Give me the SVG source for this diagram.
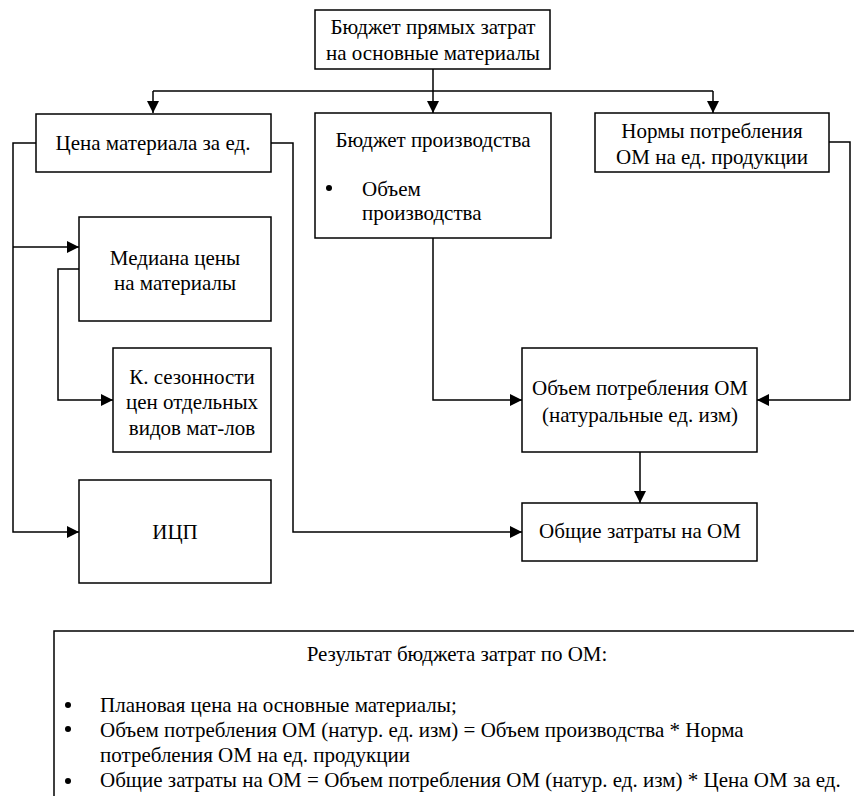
<svg xmlns="http://www.w3.org/2000/svg" width="854" height="796" viewBox="0 0 854 796">
<style>
.box{fill:#fff;stroke:#000;stroke-width:1.5}
.ln{fill:none;stroke:#000;stroke-width:1.5}
</style>
<defs>
<marker id="ah" viewBox="0 0 12 12" refX="12" refY="6" markerWidth="12" markerHeight="12" markerUnits="userSpaceOnUse" orient="auto">
<path d="M0,0 L12,6 L0,12 Z" fill="#000"/>
</marker>
</defs>
<rect width="854" height="796" fill="#fff"/>
<g id="connectors">
<path class="ln" d="M433,69 V91"/>
<path class="ln" d="M153,91 H713"/>
<path class="ln" d="M153,91 V113" marker-end="url(#ah)"/>
<path class="ln" d="M433,91 V113" marker-end="url(#ah)"/>
<path class="ln" d="M713,91 V113" marker-end="url(#ah)"/>
<path class="ln" d="M36,143 H13 V532 H79" marker-end="url(#ah)"/>
<path class="ln" d="M13,247 H79" marker-end="url(#ah)"/>
<path class="ln" d="M79,269 H58 V400 H113" marker-end="url(#ah)"/>
<path class="ln" d="M271,143 H293 V532 H522" marker-end="url(#ah)"/>
<path class="ln" d="M433,238 V400 H522" marker-end="url(#ah)"/>
<path class="ln" d="M829,142 H850 V400 H757" marker-end="url(#ah)"/>
<path class="ln" d="M640,452 V503" marker-end="url(#ah)"/>
</g>
<g font-family="Liberation Serif" font-size="21" fill="#000">
<g id="n-top" text-anchor="middle">
<rect class="box" x="315" y="10" width="235" height="59"/>
<text x="433" y="34">Бюджет прямых затрат</text>
<text x="433" y="60">на основные материалы</text>
</g>
<g id="n-price" text-anchor="middle">
<rect class="box" x="36" y="114" width="235" height="58"/>
<text x="153" y="150">Цена материала за ед.</text>
</g>
<g id="n-prod">
<rect class="box" x="315" y="113" width="236" height="125"/>
<text x="433" y="147" text-anchor="middle">Бюджет производства</text>
<circle cx="329" cy="188" r="3"/>
<text x="362" y="196">Объем</text>
<text x="362" y="220">производства</text>
</g>
<g id="n-norms" text-anchor="middle">
<rect class="box" x="595" y="113" width="234" height="59"/>
<text x="712" y="138">Нормы потребления</text>
<text x="712" y="164">ОМ на ед. продукции</text>
</g>
<g id="n-median" text-anchor="middle">
<rect class="box" x="79" y="217" width="192" height="104"/>
<text x="175" y="265">Медиана цены</text>
<text x="175" y="290">на материалы</text>
</g>
<g id="n-season" text-anchor="middle">
<rect class="box" x="113" y="348" width="158" height="104"/>
<text x="192" y="384">К. сезонности</text>
<text x="192" y="409">цен отдельных</text>
<text x="192" y="435">видов мат-лов</text>
</g>
<g id="n-icp" text-anchor="middle">
<rect class="box" x="79" y="480" width="192" height="103"/>
<text x="175" y="539">ИЦП</text>
</g>
<g id="n-volume" text-anchor="middle">
<rect class="box" x="522" y="348" width="235" height="104"/>
<text x="640" y="395">Объем потребления ОМ</text>
<text x="640" y="422">(натуральные ед. изм)</text>
</g>
<g id="n-total" text-anchor="middle">
<rect class="box" x="522" y="503" width="235" height="58"/>
<text x="640" y="538">Общие затраты на ОМ</text>
</g>
<g id="n-result">
<rect class="box" x="54" y="631" width="830" height="200"/>
<text x="457" y="661" text-anchor="middle">Результат бюджета затрат по ОМ:</text>
<circle cx="68" cy="705" r="3"/>
<text x="100" y="712">Плановая цена на основные материалы;</text>
<circle cx="68" cy="729" r="3"/>
<text x="100" y="737">Объем потребления ОМ (натур. ед. изм) = Объем производства * Норма</text>
<text x="100" y="762">потребления ОМ на ед. продукции</text>
<circle cx="68" cy="781" r="3"/>
<text x="100" y="787">Общие затраты на ОМ = Объем потребления ОМ (натур. ед. изм) * Цена ОМ за ед.</text>
</g>
</g>
</svg>
